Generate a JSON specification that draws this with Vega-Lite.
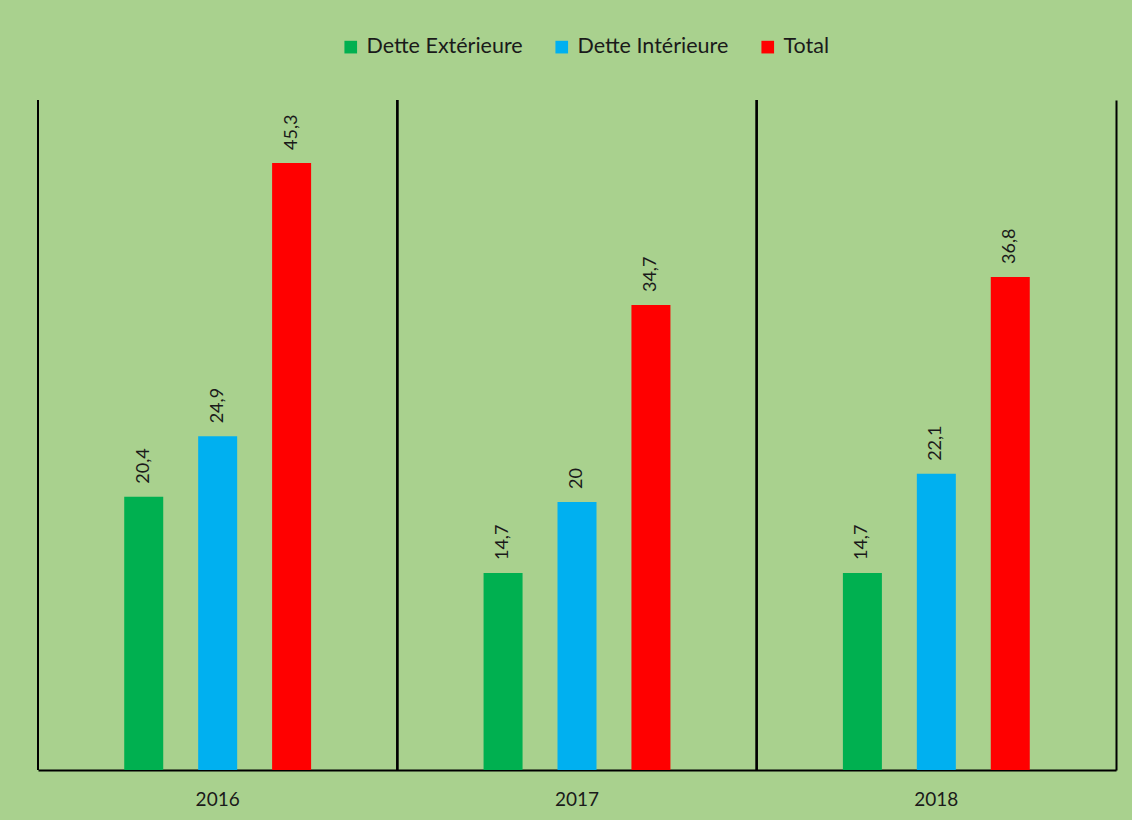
{
  "$schema": "https://vega.github.io/schema/vega-lite/v6.json",
  "width": 1078,
  "height": 670,
  "autosize": {"type": "none"},
  "padding": {"left": 38, "top": 100, "right": 16, "bottom": 50},
  "background": "#A9D18E",
  "config": {
    "view": {"stroke": null},
    "font": "Lato",
    "locale": {"number": {"decimal": ",", "thousands": " ", "grouping": [3], "currency": ["", " €"]}}
  },
  "data": {
    "values": [
      {"year": "2016", "series": "Dette Extérieure", "value": 20.4},
      {"year": "2016", "series": "Dette Intérieure", "value": 24.9},
      {"year": "2016", "series": "Total", "value": 45.3},
      {"year": "2017", "series": "Dette Extérieure", "value": 14.7},
      {"year": "2017", "series": "Dette Intérieure", "value": 20},
      {"year": "2017", "series": "Total", "value": 34.7},
      {"year": "2018", "series": "Dette Extérieure", "value": 14.7},
      {"year": "2018", "series": "Dette Intérieure", "value": 22.1},
      {"year": "2018", "series": "Total", "value": 36.8}
    ]
  },
  "encoding": {
    "x": {
      "field": "year",
      "type": "nominal",
      "scale": {"paddingInner": 0, "paddingOuter": 0},
      "axis": {
        "title": null,
        "labelAngle": 0,
        "labelFontSize": 19,
        "labelColor": "#1a1a1a",
        "labelPadding": 20,
        "ticks": false,
        "domainColor": "black",
        "domainWidth": 2
      }
    }
  },
  "layer": [
    {
      "mark": {"type": "rule", "color": "black", "strokeWidth": 2},
      "encoding": {"x": {"field": "year", "type": "nominal", "bandPosition": 0}}
    },
    {
      "mark": {"type": "bar", "width": 39},
      "encoding": {
        "xOffset": {"field": "series", "type": "nominal", "scale": {"paddingInner": 0, "paddingOuter": 0.93}},
        "y": {
          "field": "value",
          "type": "quantitative",
          "scale": {"domain": [0, 50], "nice": false, "zero": true},
          "axis": {
            "orient": "right",
            "title": null,
            "labels": false,
            "ticks": false,
            "grid": false,
            "domainColor": "black",
            "domainWidth": 2
          }
        },
        "color": {
          "field": "series",
          "type": "nominal",
          "scale": {
            "domain": ["Dette Extérieure", "Dette Intérieure", "Total"],
            "range": ["#00B050", "#00B0F0", "#FF0000"]
          },
          "legend": {
            "title": null,
            "orient": "none",
            "direction": "horizontal",
            "legendX": 302,
            "legendY": -64,
            "symbolType": "square",
            "symbolSize": 160,
            "symbolStrokeWidth": 0,
            "symbolOpacity": 1,
            "labelFontSize": 21.5,
            "labelColor": "#1a1a1a",
            "columnPadding": 28,
            "labelOffset": 5
          }
        }
      }
    },
    {
      "mark": {"type": "text", "angle": 270, "align": "left", "baseline": "middle", "dx": 13, "fontSize": 18, "color": "#1a1a1a"},
      "encoding": {
        "xOffset": {"field": "series", "type": "nominal", "scale": {"paddingInner": 0, "paddingOuter": 0.93}},
        "y": {"field": "value", "type": "quantitative"},
        "text": {"field": "value", "type": "quantitative", "format": "~g"}
      }
    }
  ]
}
